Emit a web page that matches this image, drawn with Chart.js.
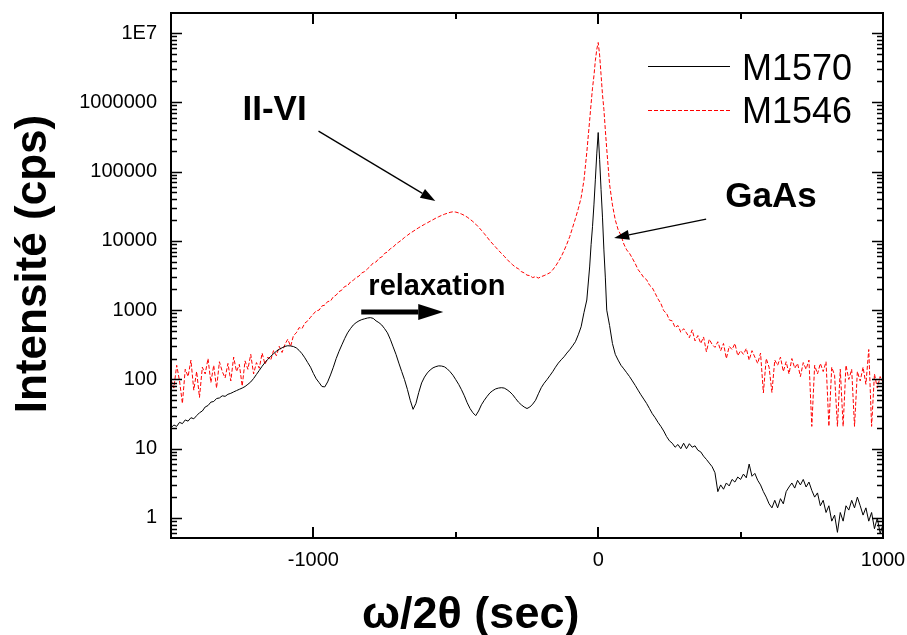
<!DOCTYPE html>
<html>
<head>
<meta charset="utf-8">
<script src="https://cdn.jsdelivr.net/npm/chart.js@4.4.1/dist/chart.umd.min.js"></script>
<style>
  body { margin: 0; background: #fff; }
  canvas { display: block; }
</style>
</head>
<body>
<canvas id="graf" width="907" height="635"></canvas>
<script>
// omega/2theta (sec)
const omega = [
  -1500, -1490, -1480, -1470, -1460, -1450, -1440, -1430, -1420, -1410,
  -1400, -1390, -1380, -1370, -1360, -1350, -1340, -1330, -1320, -1310,
  -1300, -1290, -1280, -1270, -1260, -1250, -1240, -1230, -1220, -1210,
  -1200, -1190, -1180, -1170, -1160, -1150, -1140, -1130, -1120, -1110,
  -1100, -1090, -1080, -1070, -1060, -1050, -1040, -1030, -1020, -1010,
  -1000, -990, -980, -970, -960, -950, -940, -930, -920, -910,
  -900, -890, -880, -870, -860, -850, -840, -830, -820, -810,
  -800, -790, -780, -770, -760, -750, -740, -730, -720, -710,
  -700, -690, -680, -670, -660, -650, -640, -630, -620, -610,
  -600, -590, -580, -570, -560, -550, -540, -530, -520, -510,
  -500, -490, -480, -470, -460, -450, -440, -430, -420, -410,
  -400, -390, -380, -370, -360, -350, -340, -330, -320, -310,
  -300, -290, -280, -270, -260, -250, -240, -230, -220, -210,
  -200, -190, -180, -170, -160, -150, -140, -130, -120, -110,
  -100, -90, -80, -70, -60, -50, -40,
  -30, -25, -20, -15, -10, -5, 0, 5, 10, 15, 20, 25, 30,
  40, 50, 60, 70, 80, 90, 100,
  110, 120, 130, 140, 150, 160, 170, 180, 190, 200,
  210, 220, 230, 240, 250, 260, 270, 280, 290, 300,
  310, 320, 330, 340, 350, 360, 370, 380, 390, 400,
  410, 420, 430, 440, 450, 460, 470, 480, 490, 500,
  510, 520, 530, 540, 550, 560, 570, 580, 590, 600,
  610, 620, 630, 640, 650, 660, 670, 680, 690, 700,
  710, 720, 730, 740, 750, 760, 770, 780, 790, 800,
  810, 820, 830, 840, 850, 860, 870, 880, 890, 900,
  910, 920, 930, 940, 950, 960, 970, 980, 990, 1000
];

// M1570 (cps)
const m1570 = [
  20, 22, 21, 24, 23, 26, 25, 28, 27, 30,
  33, 35, 40, 42, 47, 48, 53, 54, 58, 57,
  61, 63, 66, 69, 72, 75, 79, 85, 92, 103,
  118, 135, 155, 175, 195, 215, 235, 255, 272, 286,
  300, 306, 304, 298, 285, 262, 235, 205, 175, 150,
  122, 102, 90, 79, 78, 92, 116, 150, 200, 255,
  316, 390, 470, 540, 610, 660, 700, 730, 750, 770,
  780, 760, 700, 660, 610, 540, 470, 380, 295, 230,
  172, 130, 99, 72, 50, 37, 45, 65, 89, 108,
  124, 137, 147, 153, 157, 156, 152, 142, 129, 115,
  99, 85, 71, 58, 46, 38, 33, 30, 35, 43,
  50, 57, 64, 69, 73, 75, 76, 75, 71, 66,
  60, 53, 47, 43, 40, 38, 40, 44, 50, 62,
  76, 88, 99, 113, 129, 150, 172, 192, 212, 240,
  268, 305, 350, 440, 575, 920, 1400,
  4200, 8800, 16000, 33000, 76000, 180000, 366000, 150000, 55000, 22000, 7400, 3000, 1000,
  600, 330, 230, 190, 160, 142, 125,
  110, 95, 82, 70, 60, 52, 45, 38, 32, 28,
  24, 21, 18, 15, 13, 12, 10.5, 11.5, 10, 12,
  10, 11.8, 10.5, 11, 9.5, 9, 7.8, 7, 6.2, 5.5,
  4.5, 2.4, 3.0, 2.6, 3.2, 2.9, 3.6, 3.3, 3.9, 3.6,
  4.3, 3.8, 6.0, 4.0, 4.4, 3.5, 3.0, 2.4, 2.0, 1.6,
  1.4, 1.8, 1.4, 1.9, 1.6, 2.4, 2.8, 3.2, 2.7, 3.5,
  3.0, 3.6, 2.8, 3.3, 2.5, 2.0, 2.3, 1.5, 1.8, 1.2,
  1.5, 0.9, 1.1, 0.62, 1.2, 0.9, 1.5, 1.3, 1.8, 1.4,
  2.0, 1.5, 1.1, 1.4, 0.9, 1.2, 0.7, 1.0, 0.6, 0.8
];

// M1546 (cps)
const m1546 = [
  100, 75, 160, 95, 45, 140, 110, 190, 70, 130,
  55, 150, 120, 200, 90, 160, 75, 180, 130, 105,
  170, 95, 210, 130, 165, 80, 185, 140, 230, 120,
  175, 145, 240, 165, 210, 190, 260, 220, 300, 245,
  320, 380, 300, 430, 470, 560, 540, 650, 700, 790,
  880, 980, 1000, 1150, 1180, 1330, 1350, 1560, 1650, 1850,
  1950, 2200, 2250, 2550, 2700, 2950, 3100, 3450, 3600, 3950,
  4300, 4800, 4950, 5600, 5850, 6600, 6900, 7700, 8100, 9000,
  9600, 10300, 11200, 12000, 12900, 13700, 14600, 15500, 16400, 17300,
  18200, 19200, 20200, 21300, 22300, 23300, 24200, 25000, 25800, 26300,
  26000, 25300, 24400, 23300, 22000, 20500, 19000, 17400, 15800, 14200,
  12700, 11300, 10000, 9000, 8100, 7300, 6600, 6000, 5400, 4900,
  4500, 4150, 3950, 3600, 3450, 3200, 3150, 2950, 3050, 2900,
  3050, 3150, 3300, 3450, 3800, 4300, 5000, 5900, 7200, 9000,
  11500, 15500, 21000, 29000, 42000, 75000, 190000,
  550000, 950000, 1600000, 2400000, 4000000, 5800000, 7300000, 4800000, 2500000, 1300000, 790000, 400000, 210000,
  65000, 33000, 20000, 14500, 12000, 9000, 7400,
  6600, 5600, 4700, 3850, 3400, 2950, 2750, 2300, 2100, 1750,
  1450, 1250, 980, 900, 720, 700, 560, 600, 480, 540,
  470, 400, 520, 360, 430, 330, 410, 250, 380, 320,
  290, 350, 260, 330, 200, 300, 270, 330, 220, 260,
  230, 280, 190, 260, 210, 170, 240, 64, 200, 150,
  65, 190, 160, 210, 130, 180, 120, 200, 145, 170,
  110, 175, 140, 190, 21, 160, 120, 170, 130, 180,
  21, 150, 115, 21, 140, 21, 160, 100, 140, 21,
  130, 95, 150, 85, 270, 21, 120, 75, 110, 90
];

const yTicks = [1, 10, 100, 1000, 10000, 100000, 1000000, 10000000];
const yTickLabels = ['1', '10', '100', '1000', '10000', '100000', '1000000', '1E7'];
const xTicks = [-1000, 0, 1000];
const xTickLabels = ['-1000', '0', '1000'];
const xMinor = [-1500, -500, 500];

const police = "'Liberation Sans', Arial, sans-serif";

function fleche(ctx, x1, y1, x2, y2, lw, hl, hw) {
  const ang = Math.atan2(y2 - y1, x2 - x1);
  ctx.lineWidth = lw;
  ctx.beginPath();
  ctx.moveTo(x1, y1);
  ctx.lineTo(x2 - hl * Math.cos(ang), y2 - hl * Math.sin(ang));
  ctx.stroke();
  ctx.save();
  ctx.translate(x2, y2);
  ctx.rotate(ang);
  ctx.beginPath();
  ctx.moveTo(0, 0);
  ctx.lineTo(-hl, -hw);
  ctx.lineTo(-hl, hw);
  ctx.closePath();
  ctx.fill();
  ctx.restore();
}

// cadre, graduations, textes
const decor = {
  id: 'decor',
  afterDatasetsDraw(chart) {
    const ctx = chart.ctx;
    const a = chart.chartArea;
    const sx = chart.scales.x;
    const sy = chart.scales.y;
    ctx.save();
    ctx.strokeStyle = '#000';
    ctx.fillStyle = '#000';

    // graduations y (gauche et droite)
    ctx.lineWidth = 1.5;
    ctx.beginPath();
    for (let d = -1; d <= 7; d++) {
      for (let k = 1; k <= 9; k++) {
        const v = k * Math.pow(10, d);
        if (v < sy.min || v > sy.max) continue;
        const py = Math.round(sy.getPixelForValue(v)) + 0.5;
        const l = k === 1 ? 11 : 6;
        ctx.moveTo(a.left, py); ctx.lineTo(a.left + l, py);
        ctx.moveTo(a.right, py); ctx.lineTo(a.right - l, py);
      }
    }
    ctx.stroke();

    // graduations x (bas et haut)
    ctx.lineWidth = 2;
    ctx.beginPath();
    xTicks.concat(xMinor).forEach(v => {
      const px = Math.round(sx.getPixelForValue(v));
      const l = xTicks.includes(v) ? 11 : 6;
      ctx.moveTo(px, a.bottom); ctx.lineTo(px, a.bottom - l);
      ctx.moveTo(px, a.top); ctx.lineTo(px, a.top + l);
    });
    ctx.stroke();

    // cadre
    ctx.lineWidth = 2;
    ctx.strokeRect(a.left, a.top, a.right - a.left, a.bottom - a.top);

    // legende
    ctx.lineWidth = 1;
    ctx.beginPath();
    ctx.moveTo(a.right - 235, a.top + 53.5);
    ctx.lineTo(a.right - 153, a.top + 53.5);
    ctx.stroke();
    ctx.strokeStyle = '#ff0000';
    ctx.setLineDash([4, 2]);
    ctx.beginPath();
    ctx.moveTo(a.right - 235, a.top + 97.5);
    ctx.lineTo(a.right - 153, a.top + 97.5);
    ctx.stroke();
    ctx.setLineDash([]);
    ctx.strokeStyle = '#000';
    ctx.font = '36px ' + police;
    ctx.textAlign = 'left';
    ctx.textBaseline = 'alphabetic';
    ctx.fillText('M1570', a.right - 141, a.top + 67);
    ctx.fillText('M1546', a.right - 141, a.top + 110);

    // annotations
    ctx.font = 'bold 35px ' + police;
    ctx.fillText('II-VI', sx.getPixelForValue(-1249), sy.getPixelForValue(5.5e5));
    ctx.fillText('GaAs', sx.getPixelForValue(446), sy.getPixelForValue(3.07e4));
    ctx.font = 'bold 29px ' + police;
    ctx.fillText('relaxation', sx.getPixelForValue(-807), sy.getPixelForValue(1650));

    fleche(ctx, sx.getPixelForValue(-982), sy.getPixelForValue(3.84e5),
      sx.getPixelForValue(-572), sy.getPixelForValue(3.75e4), 1.3, 15, 5);
    fleche(ctx, sx.getPixelForValue(379), sy.getPixelForValue(2.06e4),
      sx.getPixelForValue(56), sy.getPixelForValue(1.1e4), 1.3, 15, 5);
    fleche(ctx, sx.getPixelForValue(-832), sy.getPixelForValue(939),
      sx.getPixelForValue(-544), sy.getPixelForValue(939), 5, 25, 8);

    // titres des axes
    ctx.font = 'bold 45px ' + police;
    ctx.textAlign = 'left';
    ctx.fillText('\u03c9/2\u03b8 (sec)', 362, 628);
    ctx.font = 'bold 44px ' + police;
    ctx.save();
    ctx.translate(a.left - 125, 264);
    ctx.rotate(-Math.PI / 2);
    ctx.textAlign = 'center';
    ctx.fillText('Intensit\u00e9 (cps)', 0, 0);
    ctx.restore();

    ctx.restore();
  }
};

const ctx = document.getElementById('graf').getContext('2d');
const graf = new Chart(ctx, {
  type: 'line',
  data: {
    datasets: [
      {
        label: 'M1570',
        data: omega.map((x, i) => ({ x: x, y: m1570[i] })),
        borderColor: '#000000',
        borderWidth: 1,
        pointRadius: 0,
        tension: 0
      },
      {
        label: 'M1546',
        data: omega.map((x, i) => ({ x: x, y: m1546[i] })),
        borderColor: '#ff0000',
        borderWidth: 1,
        borderDash: [4, 2],
        pointRadius: 0,
        tension: 0
      }
    ]
  },
  options: {
    responsive: false,
    animation: false,
    devicePixelRatio: 1,
    layout: { padding: { top: 13, right: 24, left: 0, bottom: 0 } },
    plugins: {
      legend: { display: false },
      tooltip: { enabled: false }
    },
    scales: {
      x: {
        type: 'linear',
        min: -1500,
        max: 1000,
        grid: { display: false, drawTicks: false },
        border: { display: false },
        afterBuildTicks: s => { s.ticks = xTicks.map(v => ({ value: v })); },
        afterFit: s => { s.height = 97; s.paddingLeft = 0; s.paddingRight = 0; },
        ticks: {
          autoSkip: false,
          maxRotation: 0,
          padding: 10,
          color: '#000',
          font: { family: police, size: 20 },
          callback: v => xTickLabels[xTicks.indexOf(v)]
        }
      },
      y: {
        type: 'logarithmic',
        min: 0.514,
        max: 1.945e7,
        grid: { display: false, drawTicks: false },
        border: { display: false },
        afterBuildTicks: s => { s.ticks = yTicks.map(v => ({ value: v })); },
        afterFit: s => { s.width = 171; s.paddingTop = 0; s.paddingBottom = 0; },
        ticks: {
          autoSkip: false,
          padding: 14,
          color: '#000',
          font: { family: police, size: 20 },
          callback: v => yTickLabels[yTicks.indexOf(v)]
        }
      }
    }
  },
  plugins: [decor]
});
</script>
</body>
</html>
